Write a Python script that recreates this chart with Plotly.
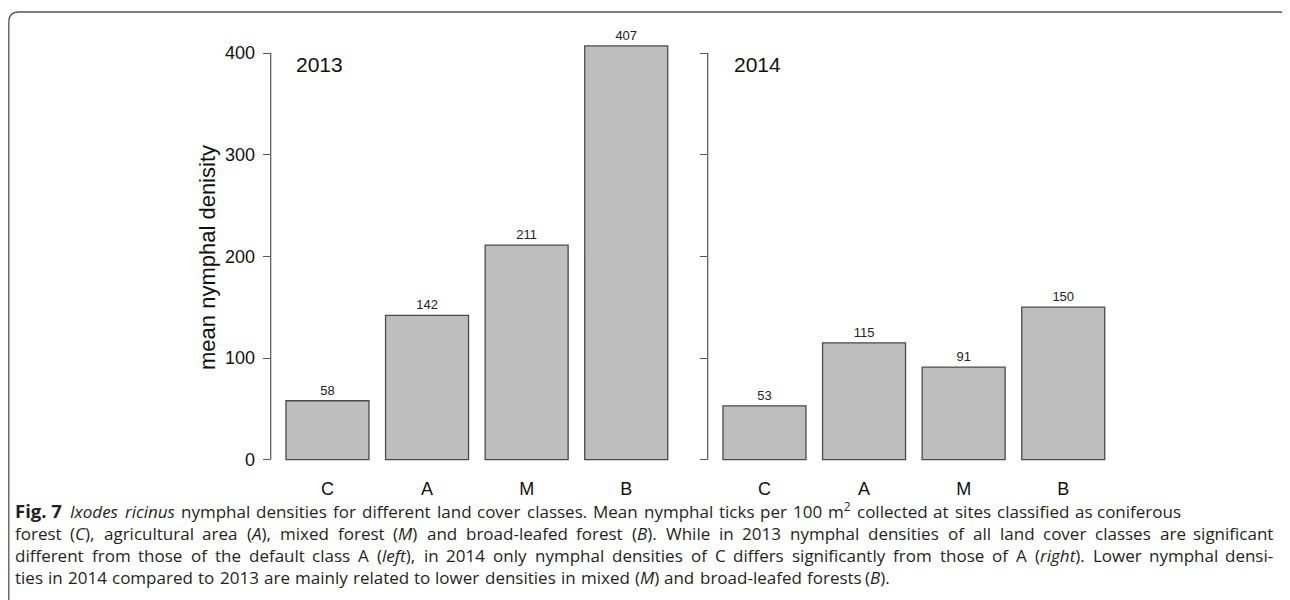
import re
import plotly.graph_objects as go

# ---- data ----
categories = ["C", "A", "M", "B"]
density_2013 = [58, 142, 211, 407]
density_2014 = [53, 115, 91, 150]
y_ticks = [0, 100, 200, 300, 400]
year_labels = ["2013", "2014"]
y_title = "mean nymphal denisity"
caption_lines = [
    "<b>Fig.\u00a07</b> <i>Ixodes</i> <i>ricinus</i> nymphal densities for different land cover classes. Mean nymphal ticks per 100 m<sup>2</sup> collected at sites classified as coniferous",
    "forest (<i>C</i>), agricultural area (<i>A</i>), mixed forest (<i>M</i>) and broad-leafed forest (<i>B</i>). While in 2013 nymphal densities of all land cover classes are significant",
    "different from those of the default class A (<i>left</i>), in 2014 only nymphal densities of C differs significantly from those of A (<i>right</i>). Lower nymphal densi-",
    "ties in 2014 compared to 2013 are mainly related to lower densities in mixed (<i>M</i>) and broad-leafed forests (<i>B</i>).",
]

W, H = 1290, 600
OFF = 8  # page body margin of the html page
FONT = "Liberation Sans, Arial, Helvetica, sans-serif"
CAP_FONT = "Open Sans, Noto Sans, sans-serif"
CAP_SIZE = 17
BAR_FILL = "#bebebe"
EDGE = "#4a4a4a"
AX = "#555555"

def px_x(p):
    return (p - OFF) / W

def px_y(p):
    return 1 - (p - OFF) / H

fig = go.Figure()
for vals, xa, ya in [(density_2013, "x", "y"), (density_2014, "x2", "y2")]:
    fig.add_trace(go.Bar(
        x=categories, y=vals, xaxis=xa, yaxis=ya,
        marker=dict(color=BAR_FILL, line=dict(color=EDGE, width=1.3)),
        text=[str(v) for v in vals], textposition="outside",
        textfont=dict(family=FONT, size=13, color="#222222"),
        cliponaxis=False, showlegend=False, hoverinfo="x+y",
    ))

# y scale: 0 at 459.7px, 1.0167 px per unit (page pixels)
y0_px, ppu = 459.7, 1.0167
top_px, bot_px = 14, 470
yr = [-(bot_px - y0_px) / ppu, (y0_px - top_px) / ppu]
xr = [-0.57, 3.57]

common_x = dict(range=xr, showgrid=False, zeroline=False, showline=False, ticks="",
                tickfont=dict(family=FONT, size=18, color="#111111"), ticklabelstandoff=6)
common_y = dict(range=yr, domain=[px_y(bot_px), px_y(top_px)], tickvals=y_ticks,
                showgrid=False, zeroline=False, showline=False, ticks="outside",
                ticklen=7, tickwidth=1, tickcolor=AX,
                tickfont=dict(family=FONT, size=18, color="#111111"))

fig.update_layout(
    width=W, height=H,
    margin=dict(l=0, r=0, t=0, b=0),
    paper_bgcolor="white", plot_bgcolor="white",
    bargap=1 - 1 / 1.2,
    xaxis=dict(domain=[px_x(270.7), px_x(683)], anchor="y", **common_x),
    xaxis2=dict(domain=[px_x(707.7), px_x(1120)], anchor="y2", **common_x),
    yaxis=dict(anchor="x", ticklabelstandoff=4, **common_y),
    yaxis2=dict(anchor="x2", showticklabels=False, **common_y),
)

shapes = []
for xd, ya in [("x domain", "y"), ("x2 domain", "y2")]:
    shapes.append(dict(type="line", xref=xd, yref=ya, x0=0, x1=0,
                       y0=min(y_ticks), y1=max(y_ticks),
                       line=dict(color=AX, width=1.2)))
# rounded frame
L, R, T, r = 8.8, 1289, 12, 10
path = (f"M {px_x(L)},{-0.05} L {px_x(L)},{px_y(T + r)} "
        f"Q {px_x(L)},{px_y(T)} {px_x(L + r)},{px_y(T)} "
        f"L {px_x(R - r)},{px_y(T)} Q {px_x(R)},{px_y(T)} {px_x(R)},{px_y(T + r)} "
        f"L {px_x(R)},{-0.05}")
shapes.append(dict(type="path", xref="paper", yref="paper", path=path,
                   line=dict(color="#555555", width=1.3)))
fig.update_layout(shapes=shapes)

ann = []
ann.append(dict(text=y_title, xref="paper", yref="paper", x=px_x(207), y=px_y(258),
                textangle=-90, showarrow=False, xanchor="center", yanchor="middle",
                font=dict(family=FONT, size=22, color="#111111")))
for lbl, xpx in zip(year_labels, [294, 732]):
    ann.append(dict(text=lbl, xref="paper", yref="paper", x=px_x(xpx), y=px_y(64.5),
                    showarrow=False, xanchor="left", yanchor="middle",
                    font=dict(family=FONT, size=21, color="#111111")))

# ---- caption: justified word by word (approximate Open Sans advance widths) ----
ADV = {" ": .260, "\u00a0": .260, "(": .296, ")": .296, ",": .245, "-": .322, ".": .266,
       "0": .572, "1": .572, "2": .572, "3": .572, "4": .572, "5": .572, "6": .572,
       "7": .572, "8": .572, "9": .572,
       "A": .633, "B": .648, "C": .631, "F": .516, "I": .279, "L": .519, "M": .903, "W": .930,
       "a": .556, "b": .613, "c": .476, "d": .613, "e": .561, "f": .339, "g": .548,
       "h": .614, "i": .253, "j": .253, "k": .525, "l": .253, "m": .930, "n": .614,
       "o": .604, "p": .613, "q": .613, "r": .408, "s": .477, "t": .353, "u": .614,
       "v": .501, "w": .778, "x": .524, "y": .502, "z": .477}

def word_width(html, size):
    w = 0.0
    italic = bold = sup = False
    for tok in re.split(r"(<[^>]+>)", html):
        if tok.startswith("<"):
            name = tok.strip("</>")
            on = not tok.startswith("</")
            if name == "i":
                italic = on
            elif name == "b":
                bold = on
            elif name == "sup":
                sup = on
            continue
        f = (0.95 if italic else 1.0) * (1.09 if bold else 1.0) * (0.7 if sup else 1.0)
        w += sum(ADV.get(ch, 0.56) for ch in tok) * f
    return w * size

line_starts = [14, 14, 14, 14]
line_ends = [1182, 1274, 1274, 891]
line_centers = [516, 538, 560, 582]
BOLD_SIZE = 18.5
for line, x0, x1, yc in zip(caption_lines, line_starts, line_ends, line_centers):
    words = line.split(" ")
    sizes = [BOLD_SIZE if "<b>" in wd else CAP_SIZE for wd in words]
    widths = [word_width(wd, s) for wd, s in zip(words, sizes)]
    gap = (x1 - x0 - sum(widths)) / (len(words) - 1)
    xpos = x0
    for k, (wd, s, wdt) in enumerate(zip(words, sizes, widths)):
        last = k == len(words) - 1
        ann.append(dict(text=wd, xref="paper", yref="paper",
                        x=px_x(x1 if last else xpos), y=px_y(yc + 8),
                        showarrow=False, xanchor="right" if last else "left",
                        yanchor="bottom", borderpad=0,
                        font=dict(family=CAP_FONT, size=s, color="#231f20")))
        xpos += wdt + gap
fig.update_layout(annotations=ann)

fig.write_html("out.html")
